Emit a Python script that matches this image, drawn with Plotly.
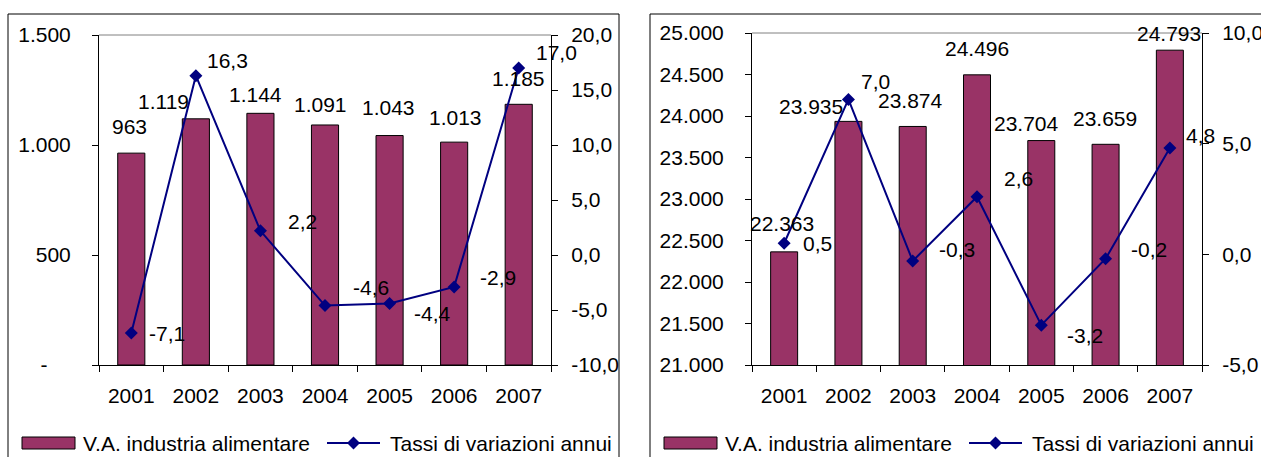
import plotly.graph_objects as go

# ---------------- data ----------------
years = ["2001", "2002", "2003", "2004", "2005", "2006", "2007"]

va_left = [963, 1119, 1144, 1091, 1043, 1013, 1185]
rate_left = [-7.1, 16.3, 2.2, -4.6, -4.4, -2.9, 17.0]

va_right = [22363, 23935, 23874, 24496, 23704, 23659, 24793]
rate_right = [0.5, 7.0, -0.3, 2.6, -3.2, -0.2, 4.8]

left_y_ticks = [0, 500, 1000, 1500]
left_y2_ticks = [-10, -5, 0, 5, 10, 15, 20]
right_y_ticks = [21000, 21500, 22000, 22500, 23000, 23500, 24000, 24500, 25000]
right_y2_ticks = [-5, 0, 5, 10]

legend_bar = "V.A. industria alimentare"
legend_line = "Tassi di variazioni annui"

# ---------------- styling / positions ----------------
W, H = 1261, 457
FONT = "Liberation Sans, Arial, sans-serif"
FS = 21
BAR_COLOR = "#993366"
LINE_COLOR = "#000080"

# label pixel offsets (xshift, yshift) relative to the data point
bar_lbl_off_L = [(-2, 27), (-32, 17), (-5, 19), (-5, 20), (-1, 28), (1, 25), (0, 26)]
line_lbl_off_L = [(36, 0), (32, 15), (42, 9), (46, 18), (43, -10), (44, 9), (38, 15)]
bar_lbl_off_R = [(-2, 28), (-37, 15), (-2, 26), (0, 26), (-15, 17), (-1, 26), (-1, 17)]
line_lbl_off_R = [(33, 0), (27, 18), (44, 11), (41, 18), (44, -10), (43, 9), (31, 13)]


def thousands(v):
    return f"{v:,}".replace(",", ".")


def dec1(v):
    return f"{v:.1f}".replace(".", ",")


def px_x(p):
    return p / W


def px_y(p):
    return 1 - p / H


fig = go.Figure()

# left panel traces
fig.add_trace(go.Bar(x=years, y=va_left, xaxis="x", yaxis="y",
                     marker=dict(color=BAR_COLOR, line=dict(color="black", width=1)),
                     name=legend_bar, showlegend=False))
fig.add_trace(go.Scatter(x=years, y=rate_left, xaxis="x", yaxis="y2", mode="lines+markers",
                         line=dict(color=LINE_COLOR, width=2),
                         marker=dict(symbol="diamond", size=10, color=LINE_COLOR),
                         name=legend_line, showlegend=False))
# right panel traces
fig.add_trace(go.Bar(x=years, y=va_right, xaxis="x2", yaxis="y3",
                     marker=dict(color=BAR_COLOR, line=dict(color="black", width=1)),
                     name=legend_bar, showlegend=False))
fig.add_trace(go.Scatter(x=years, y=rate_right, xaxis="x2", yaxis="y4", mode="lines+markers",
                         line=dict(color=LINE_COLOR, width=2),
                         marker=dict(symbol="diamond", size=10, color=LINE_COLOR),
                         name=legend_line, showlegend=False))

tickfont = dict(family=FONT, size=FS, color="black")
common_x = dict(type="category", showline=True, linecolor="black", linewidth=1,
                ticks="outside", ticklen=6, tickcolor="black", tickson="boundaries",
                tickfont=tickfont, showgrid=False, zeroline=False, fixedrange=True,
                ticklabelstandoff=12, range=[-0.5, len(years) - 0.5], autorange=False,
                categoryorder="array", categoryarray=years)
common_y = dict(showline=True, linecolor="black", linewidth=1, ticks="outside", ticklen=6,
                tickcolor="black", tickfont=tickfont, showgrid=False, zeroline=False,
                tickmode="array", fixedrange=True, autorange=False)

left_ytext = [("-" + "\u00a0" * 4) if v == 0 else thousands(v) for v in left_y_ticks]

fig.update_layout(
    width=W, height=H, autosize=False, template="none",
    margin=dict(l=0, r=0, t=0, b=0),
    paper_bgcolor="white", plot_bgcolor="rgba(0,0,0,0)",
    separators=",.", showlegend=False, bargap=0.58,
    xaxis=dict(domain=[px_x(99), px_x(551)], anchor="y", **common_x),
    yaxis=dict(domain=[px_y(365), px_y(35)], anchor="x", range=[0, 1500],
               tickvals=left_y_ticks, ticktext=left_ytext, ticklabelstandoff=17, **common_y),
    yaxis2=dict(overlaying="y", side="right", anchor="x", range=[-10, 20],
                tickvals=left_y2_ticks, ticktext=[dec1(v) for v in left_y2_ticks],
                ticklabelstandoff=9, **common_y),
    xaxis2=dict(domain=[px_x(752), px_x(1202)], anchor="y3", **common_x),
    yaxis3=dict(domain=[px_y(365), px_y(33)], anchor="x2", range=[21000, 25000],
                tickvals=right_y_ticks, ticktext=[thousands(v) for v in right_y_ticks],
                ticklabelstandoff=17, **common_y),
    yaxis4=dict(overlaying="y3", side="right", anchor="x2", range=[-5, 10],
                tickvals=right_y2_ticks, ticktext=[dec1(v) for v in right_y2_ticks],
                ticklabelstandoff=9, **common_y),
)

annotations = []
lblfont = dict(family=FONT, size=FS, color="black")
for i, y in enumerate(years):
    # category index i is used as x position (category strings look numeric)
    annotations.append(dict(x=i, y=va_left[i], xref="x", yref="y", text=thousands(va_left[i]),
                            showarrow=False, xshift=bar_lbl_off_L[i][0], yshift=bar_lbl_off_L[i][1],
                            font=lblfont))
    annotations.append(dict(x=i, y=rate_left[i], xref="x", yref="y2", text=dec1(rate_left[i]),
                            showarrow=False, xshift=line_lbl_off_L[i][0], yshift=line_lbl_off_L[i][1],
                            font=lblfont))
    annotations.append(dict(x=i, y=va_right[i], xref="x2", yref="y3", text=thousands(va_right[i]),
                            showarrow=False, xshift=bar_lbl_off_R[i][0], yshift=bar_lbl_off_R[i][1],
                            font=lblfont))
    annotations.append(dict(x=i, y=rate_right[i], xref="x2", yref="y4", text=dec1(rate_right[i]),
                            showarrow=False, xshift=line_lbl_off_R[i][0], yshift=line_lbl_off_R[i][1],
                            font=lblfont))

shapes = []
# gray top border of plot areas
shapes.append(dict(type="line", xref="x domain", yref="y domain", x0=0, x1=1, y0=1, y1=1,
                   line=dict(color="#808080", width=1)))
shapes.append(dict(type="line", xref="x2 domain", yref="y3 domain", x0=0, x1=1, y0=1, y1=1,
                   line=dict(color="#808080", width=1)))
# chart-area borders
for (l, r) in [(8, 619), (650, 1300)]:
    shapes.append(dict(type="rect", xref="paper", yref="paper", x0=px_x(l), x1=px_x(r),
                       y0=px_y(500), y1=px_y(14), line=dict(color="black", width=1),
                       fillcolor="rgba(0,0,0,0)", layer="below"))

# manual legends
for off in [0, 642]:
    shapes.append(dict(type="rect", xref="paper", yref="paper",
                       x0=px_x(22 + off), x1=px_x(75 + off), y0=px_y(449), y1=px_y(437),
                       fillcolor=BAR_COLOR, line=dict(color="black", width=1)))
    shapes.append(dict(type="line", xref="paper", yref="paper",
                       x0=px_x(327 + off), x1=px_x(380 + off), y0=px_y(443), y1=px_y(443),
                       line=dict(color=LINE_COLOR, width=2)))
    annotations.append(dict(x=px_x(81 + off), y=px_y(443), xref="paper", yref="paper",
                            text=legend_bar, showarrow=False, xanchor="left", yanchor="middle",
                            font=lblfont))
    annotations.append(dict(x=px_x(388 + off), y=px_y(443), xref="paper", yref="paper",
                            text=legend_line, showarrow=False, xanchor="left", yanchor="middle",
                            font=lblfont))

fig.update_layout(annotations=annotations, shapes=shapes)

# legend diamond markers (on a hidden overlay axis spanning the paper)
fig.add_trace(go.Scatter(x=[px_x(353.5), px_x(353.5 + 642)], y=[px_y(443), px_y(443)],
                         xaxis="x3", yaxis="y5", mode="markers",
                         marker=dict(symbol="diamond", size=10, color=LINE_COLOR),
                         hoverinfo="skip", showlegend=False, cliponaxis=False))
fig.update_layout(
    xaxis3=dict(domain=[0, 1], range=[0, 1], visible=False, anchor="y5", fixedrange=True),
    yaxis5=dict(domain=[0, 1], range=[0, 1], visible=False, anchor="x3", fixedrange=True),
)

fig.write_html("out.html", config={"displayModeBar": False},
               post_script="document.body.style.margin='0';")
